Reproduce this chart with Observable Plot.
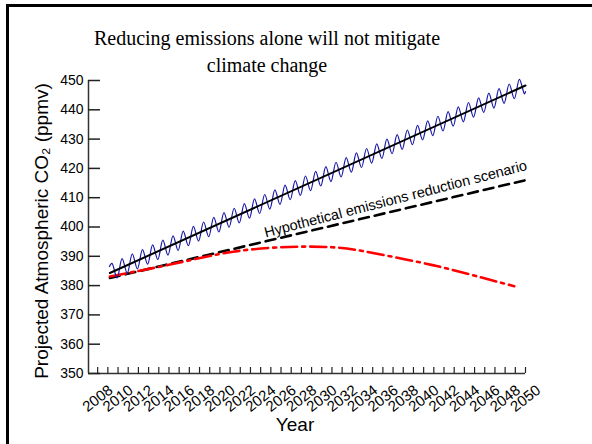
<!DOCTYPE html>
<html>
<head>
<meta charset="utf-8">
<script src="https://cdn.jsdelivr.net/npm/d3@7"></script>
<script src="https://cdn.jsdelivr.net/npm/@observablehq/plot@0.6"></script>
<style>
  html, body { margin: 0; padding: 0; background: #fff; }
  #wrap { position: relative; width: 592px; height: 444px; overflow: hidden; }
  #frame { position: absolute; left: 6px; top: 4px; width: 700px; height: 600px;
           border-left: 3px solid #000; border-top: 3px solid #000; pointer-events: none; }
  #title { position: absolute; left: 0; top: 25px; width: 534px; text-align: center;
           font-family: "Liberation Serif", "Times New Roman", serif; font-size: 20px;
           line-height: 27px; color: #000; }
  #chart { position: absolute; left: 0; top: 0; }
</style>
</head>
<body>
<div id="wrap">
  <div id="chart"></div>
  <div id="title">Reducing emissions alone will not mitigate<br>climate change</div>
  <div id="frame"></div>
</div>
<script>
// ---- data ----
const xDomain = [2007.1, 2050];
const yTicks = [350, 360, 370, 380, 390, 400, 410, 420, 430, 440, 450];
const xTicks = d3.range(2008, 2051, 1);
const xLabels = d3.range(2008, 2051, 2);

// observed (seasonal) series: yearly maxima and minima
const seasonYears = d3.range(2009, 2050);
const seasonPeaks = [387.6, 389.2, 390.8, 392.3, 393.9, 395.5, 397.0, 398.6, 400.2, 401.7,
  403.3, 404.9, 406.4, 408.0, 409.6, 411.1, 412.7, 414.3, 415.8, 417.4,
  419.0, 420.6, 422.1, 423.7, 425.3, 426.8, 428.4, 430.0, 431.5, 433.1,
  434.7, 436.2, 437.8, 439.4, 441.0, 442.5, 444.1, 445.7, 447.2, 448.8, 450.4];
const seasonTroughs = [382.6, 384.2, 385.7, 387.3, 388.9, 390.4, 392.0, 393.6, 395.2, 396.7,
  398.3, 399.9, 401.4, 403.0, 404.6, 406.1, 407.7, 409.3, 410.8, 412.4,
  414.0, 415.5, 417.1, 418.7, 420.3, 421.8, 423.4, 425.0, 426.5, 428.1,
  429.7, 431.2, 432.8, 434.4, 435.9, 437.5, 439.1, 440.6, 442.2, 443.8, 445.4];
const seasonStart = [2009.15, 386.5];
const seasonEnd = [2050.0, 446.2];

// trend line
const trendYears = [2009.2, 2050.0];
const trendValues = [384.3, 448.3];

// hypothetical emissions reduction scenario (dashed)
const scenarioYears = [2009.2, 2049.9];
const scenarioValues = [382.6, 415.9];

// red dash-dot curve
const redYears = [2009.2, 2012, 2015, 2019, 2022, 2025, 2028, 2031, 2034, 2038, 2041, 2044, 2048.9];
const redValues = [383.1, 385.0, 387.1, 390.1, 391.9, 392.9, 393.3, 393.1, 391.8, 389.1, 386.9, 384.3, 379.8];

// ---- build tables ----
const season = [{x: seasonStart[0], y: seasonStart[1]}];
seasonYears.forEach((yr, i) => {
  season.push({x: yr + 0.4, y: seasonPeaks[i]});
  season.push({x: yr + 0.9, y: seasonTroughs[i]});
});
season.push({x: seasonEnd[0], y: seasonEnd[1]});
const trend = trendYears.map((x, i) => ({x, y: trendValues[i]}));
const scenario = scenarioYears.map((x, i) => ({x, y: scenarioValues[i]}));
const red = redYears.map((x, i) => ({x, y: redValues[i]}));

const W = 592, H = 444, mL = 88, mR = 67, mT = 80, mB = 71;
const innerW = W - mL - mR, innerH = H - mT - mB;
const sans = "Liberation Sans, Arial, Helvetica, sans-serif";

const plot = Plot.plot({
  width: W, height: H,
  marginLeft: mL, marginRight: mR, marginTop: mT, marginBottom: mB,
  style: {fontFamily: sans, background: "transparent", color: "#000", overflow: "visible"},
  x: {domain: xDomain, axis: null},
  y: {domain: [yTicks[0], yTicks[yTicks.length - 1]], axis: null},
  marks: [
    // axis lines
    Plot.ruleX([xDomain[0]], {x: d => d, stroke: "#333", strokeWidth: 1.5}),
    Plot.ruleY([yTicks[0]], {y: d => d, stroke: "#333", strokeWidth: 1.5}),
    // inward ticks
    Plot.tickY(yTicks, {y: d => d, insetRight: innerW - 12, stroke: "#222", strokeWidth: 1.5}),
    Plot.tickX(xTicks, {x: d => d, insetTop: innerH - 6, stroke: "#222", strokeWidth: 1.2}),
    // tick labels
    Plot.text(yTicks, {y: d => d, frameAnchor: "left", dx: -5, textAnchor: "end",
      text: d => String(d), fontSize: 14, fill: "#000"}),
    Plot.text(xLabels, {x: d => d, frameAnchor: "bottom", dy: 25, rotate: -38,
      textAnchor: "middle", lineAnchor: "middle", text: d => String(d), fontSize: 15, fill: "#000"}),
    // axis titles
    Plot.text(["Projected Atmospheric CO\u2082 (ppmv)"], {frameAnchor: "left", dx: -47, dy: 4,
      rotate: -90, textAnchor: "middle", lineAnchor: "middle", text: d => d, fontSize: 19, fill: "#000"}),
    Plot.text(["Year"], {frameAnchor: "bottom", dx: -12, dy: 57, textAnchor: "middle",
      lineAnchor: "bottom", text: d => d, fontSize: 19, fill: "#000"}),
    // series
    Plot.line(scenario, {x: "x", y: "y", stroke: "#000", strokeWidth: 2.6, strokeDasharray: "10,6"}),
    Plot.line(red, {x: "x", y: "y", stroke: "#ff0000", strokeWidth: 2.6, curve: "natural",
      strokeDasharray: "16,5,3,5"}),
    Plot.line(season, {x: "x", y: "y", stroke: "#1616a6", strokeWidth: 1.2, curve: "catmull-rom"}),
    Plot.line(trend, {x: "x", y: "y", stroke: "#000", strokeWidth: 2}),
    // scenario label
    Plot.text(["Hypothetical emissions reduction scenario"], {x: () => 2024.5, y: () => 396.4,
      textAnchor: "start", lineAnchor: "bottom", rotate: -14.5, text: d => d, fontSize: 14.5, fill: "#000"})
  ]
});
document.getElementById("chart").appendChild(plot);
</script>
</body>
</html>
